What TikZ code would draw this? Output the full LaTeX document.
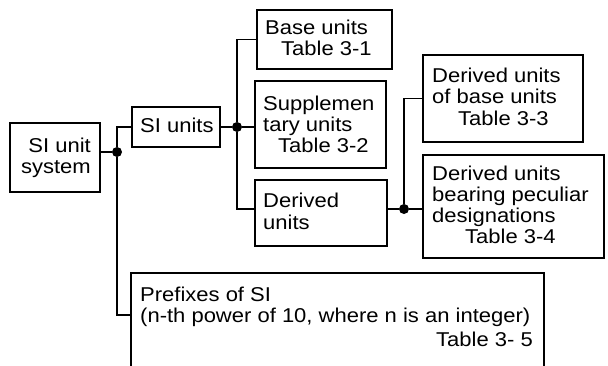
\documentclass[tikz,border=0pt]{standalone}
\usepackage{fontspec}
\setmainfont{Liberation Sans}[FakeStretch=1.1]
\begin{document}
\begin{tikzpicture}[x=1pt,y=-1pt,
  box/.style={draw, line width=1.3pt, rectangle, inner sep=0pt},
  lbl/.style={inner sep=0pt, anchor=base west, font=\fontsize{20}{22}\selectfont},
  lblr/.style={lbl, anchor=base east},
  dot/.style={circle, fill, inner sep=0pt, minimum size=10pt},
  conn/.style={line width=1.3pt}]
\useasboundingbox (0,0) rectangle (608,365);
\clip (0,0) rectangle (608,365);
\fill[white] (0,0) rectangle (608,365);
% boxes
\node[box, minimum width=90pt, minimum height=69pt] (sys) at (55,157.5) {};
\node[box, minimum width=88pt, minimum height=40pt] (si) at (176,127) {};
\node[box, minimum width=135pt, minimum height=59pt] (base) at (324.5,39.5) {};
\node[box, minimum width=131pt, minimum height=87pt] (supp) at (320.5,124.5) {};
\node[box, minimum width=132pt, minimum height=66pt] (der) at (321,213) {};
\node[box, minimum width=160pt, minimum height=87pt] (dob) at (503,98.5) {};
\node[box, minimum width=181pt, minimum height=103pt] (dbp) at (513.5,206.5) {};
\node[box, minimum width=413pt, minimum height=127pt] (pre) at (337.5,336.5) {};
\coordinate (preIn) at (pre.west |- 0,315);
% dots
\node[dot] (d1) at (117,152) {};
\node[dot] (d2) at (237,127) {};
\node[dot] (d3) at (404,209) {};
% connectors
\draw[conn] (sys.east |- d1) -- (d1);
\draw[conn] (si.west) -| (d1) |- (preIn);
\draw[conn] (si.east) -- (d2);
\draw[conn] (base.west) -| (d2) |- (der.west |- d3);
\draw[conn] (d2) -- (supp.west |- d2);
\draw[conn] (der.east |- d3) -- (d3);
\draw[conn] (d3) -- (dbp.west |- d3);
\draw[conn] (d3) |- (dob.west);
% texts
\node[lblr] (t1) at (91,152.5) {SI unit};
\node[lblr] (t2) at (91,173) {system};
\node[lbl] (t3) at (140,132) {SI units};
\node[lbl] (t4) at (265,34) {Base units};
\node[lbl] (t5) at (281,55) {Table 3-1};
\node[lbl] (t6) at (263,110) {Supplemen};
\node[lbl] (t7) at (263,131) {tary units};
\node[lbl] (t8) at (278,152) {Table 3-2};
\node[lbl] (t9) at (263,207) {Derived};
\node[lbl] (t10) at (263,229) {units};
\node[lbl] (t11) at (432,82) {Derived units};
\node[lbl] (t12) at (432,103) {of base units};
\node[lbl] (t13) at (458,125) {Table 3-3};
\node[lbl] (t14) at (432,180) {Derived units};
\node[lbl] (t15) at (432,201) {bearing peculiar};
\node[lbl] (t16) at (432,222) {designations};
\node[lbl] (t17) at (465,243) {Table 3-4};
\node[lbl] (t18) at (140,301) {Prefixes of SI};
\node[lbl] (t19) at (140,322) {(n-th power of 10, where n is an integer)};
\node[lblr] (t20) at (533,346) {Table 3- 5};
\end{tikzpicture}
\end{document}
